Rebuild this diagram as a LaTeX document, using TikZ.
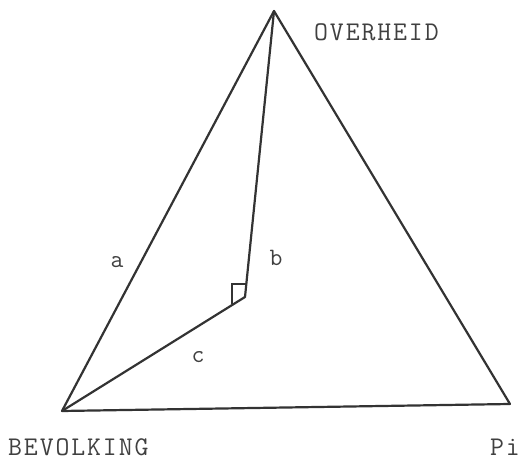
\documentclass[tikz,border=0pt]{standalone}
\usepackage{fontspec}
\newfontfamily\labelfont[LetterSpace=7]{Latin Modern Mono}
\begin{document}
\begin{tikzpicture}[x=1pt,y=-1pt,
  edge/.style={draw=black!80, line width=2.2pt, line join=round, line cap=round},
  lbl/.style={inner sep=0pt, font=\labelfont\fontsize{27}{27}\selectfont, text=black!75},
  sml/.style={inner sep=0pt, font=\ttfamily\fontsize{25}{25}\selectfont, text=black!75}]
\useasboundingbox (0,0) rectangle (523,462);
\coordinate (O) at (274,11);
\coordinate (B) at (62,411);
\coordinate (P) at (510,404);
\coordinate (D) at (245,297);
\coordinate (m1) at (246,284);
\coordinate (m2) at (232,284);
\coordinate (m3) at (232,304);
\draw[edge] (B) -- (O) -- (P) -- (B);
\draw[edge] (O) -- (D) -- (B);
\draw[draw=black!80, line width=1.8pt] (m1) -- (m2) -- (m3);
\node[lbl, anchor=base west] (ov) at (314,41) {OVERHEID};
\node[lbl, anchor=base west] (bv) at (8,456) {BEVOLKING};
\node[lbl, anchor=base east] (pi) at (520,456) {Pi};
\node[sml, anchor=base] (a) at (117,268) {a};
\node[sml, anchor=base] (b) at (276,266) {b};
\node[sml, anchor=base] (c) at (198,363) {c};
\end{tikzpicture}
\end{document}
